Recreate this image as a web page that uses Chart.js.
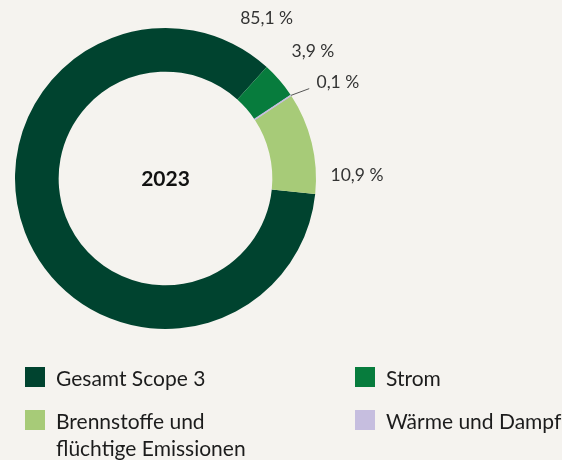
<!DOCTYPE html>
<html>
<head>
<meta charset="utf-8">
<script src="https://cdn.jsdelivr.net/npm/chart.js@4"></script>
<style>
  html, body { margin:0; padding:0; background:#f5f3ef; width:562px; height:460px; overflow:hidden; }
  #wrap { position:relative; width:562px; height:460px; }
  #c { position:absolute; left:0; top:0; }
  .item { position:absolute; display:flex; align-items:flex-start; }
  .box { width:20px; height:20px; flex:none; margin-top:0; }
  .txt { margin-left:11px; margin-top:-3.5px; font-family:Lato, "Open Sans", sans-serif; font-size:21px; line-height:27px; color:#1c1c1c; width:220px; }
</style>
</head>
<body>
<div id="wrap">
  <canvas id="c" width="562" height="460"></canvas>
  <div id="legend"></div>
</div>
<script>
// ---- data ----
const categories = ['Gesamt Scope 3', 'Strom', 'Wärme und Dampf', 'Brennstoffe und flüchtige Emissionen'];
const shares = [85.1, 3.9, 0.1, 10.9];
const valueLabels = ['85,1 %', '3,9 %', '0,1 %', '10,9 %'];
const colors = ['#00432f', '#077c3d', '#c6bedf', '#a7cb78'];
const legendOrder = [0, 1, 3, 2];
const centerLabel = '2023';

// ---- label placement (style) ----
const labelPlacement = [
  { anchor: 'end', dAngle: -10, pad: 39 },
  { anchor: 'mid', dAngle: 0, pad: 44 },
  { anchor: 'mid', dAngle: 4.3, pad: 47, leader: true },
  { anchor: 'mid', dAngle: 12.8, pad: 41 }
];

const outsideLabels = {
  id: 'outsideLabels',
  afterDatasetsDraw(chart) {
    const ctx = chart.ctx;
    const meta = chart.getDatasetMeta(0);
    ctx.save();
    // redraw the thin slice outline on top so it stays visible
    const thin = meta.data[2];
    {
      const { x, y, startAngle, endAngle, outerRadius, innerRadius } = thin.getProps(['x','y','startAngle','endAngle','outerRadius','innerRadius'], true);
      const m = (startAngle + endAngle) / 2;
      ctx.beginPath();
      ctx.strokeStyle = colors[2];
      ctx.lineWidth = 1.6;
      ctx.moveTo(x + Math.cos(m) * innerRadius, y + Math.sin(m) * innerRadius);
      ctx.lineTo(x + Math.cos(m) * outerRadius, y + Math.sin(m) * outerRadius);
      ctx.stroke();
    }
    ctx.font = '17.5px Lato, "Open Sans", sans-serif';
    ctx.fillStyle = '#333333';
    ctx.textAlign = 'center';
    ctx.textBaseline = 'middle';
    meta.data.forEach((arc, i) => {
      const p = labelPlacement[i];
      const { x, y, startAngle, endAngle, outerRadius } = arc.getProps(['x','y','startAngle','endAngle','outerRadius'], true);
      const base = p.anchor === 'end' ? endAngle : (startAngle + endAngle) / 2;
      const a = base + p.dAngle * Math.PI / 180;
      const r = outerRadius + p.pad;
      if (p.leader) {
        const mid = (startAngle + endAngle) / 2;
        const a2 = mid + 1.5 * Math.PI / 180;
        ctx.beginPath();
        ctx.strokeStyle = '#555555';
        ctx.lineWidth = 1;
        ctx.moveTo(x + Math.cos(mid) * outerRadius, y + Math.sin(mid) * outerRadius);
        ctx.lineTo(x + Math.cos(a2) * (outerRadius + 19), y + Math.sin(a2) * (outerRadius + 19));
        ctx.stroke();
      }
      ctx.fillText(valueLabels[i], x + Math.cos(a) * r, y + Math.sin(a) * r);
    });
    // center label
    const a0 = meta.data[0];
    ctx.font = 'bold 21px Lato, "Open Sans", sans-serif';
    ctx.fillStyle = '#111111';
    ctx.fillText(centerLabel, a0.x, a0.y + 1);
    ctx.restore();
  }
};

new Chart(document.getElementById('c'), {
  type: 'doughnut',
  data: {
    labels: categories,
    datasets: [{
      data: shares,
      backgroundColor: colors,
      borderWidth: 0
    }]
  },
  options: {
    responsive: false,
    devicePixelRatio: 1,
    animation: false,
    rotation: 95.9,
    cutout: '71%',
    layout: { padding: { left: 15, top: 28, right: 246, bottom: 131 } },
    plugins: { legend: { display: false }, tooltip: { enabled: false } }
  },
  plugins: [outsideLabels]
});

// ---- HTML legend ----
const legend = document.getElementById('legend');
legendOrder.forEach((idx, k) => {
  const col = k % 2, row = Math.floor(k / 2);
  const it = document.createElement('div');
  it.className = 'item';
  it.style.left = (25 + col * 330) + 'px';
  it.style.top = (367 + row * 43) + 'px';
  const b = document.createElement('div');
  b.className = 'box';
  b.style.background = colors[idx];
  const t = document.createElement('div');
  t.className = 'txt';
  t.textContent = categories[idx];
  it.appendChild(b); it.appendChild(t);
  legend.appendChild(it);
});
</script>
</body>
</html>
